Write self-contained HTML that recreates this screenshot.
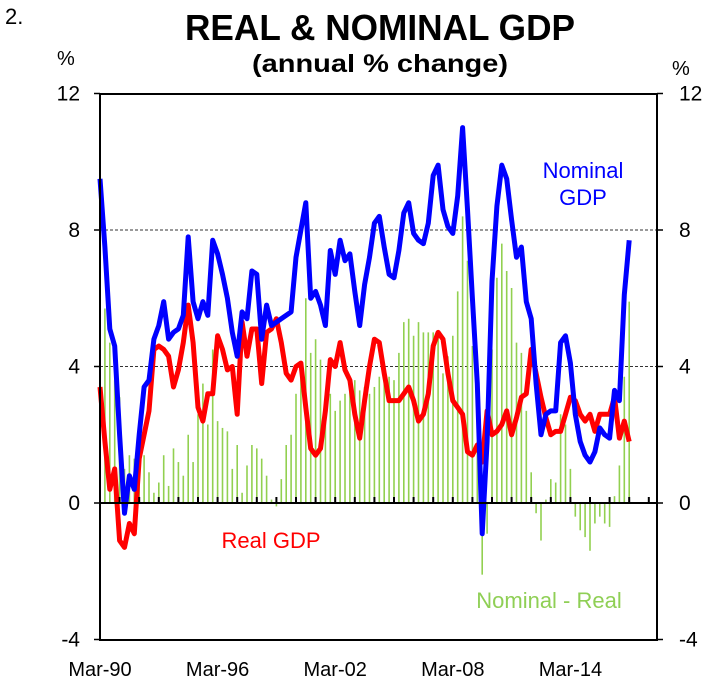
<!DOCTYPE html>
<html><head><meta charset="utf-8"><style>
html,body{margin:0;padding:0;background:#fff;}
svg{display:block;font-family:"Liberation Sans",Arial,sans-serif;}
</style></head><body>
<svg id="chart" width="720" height="681" viewBox="0 0 720 681" xmlns="http://www.w3.org/2000/svg">
<text x="5" y="24" font-size="22">2.</text>
<text x="380" y="40" font-size="36" font-weight="bold" text-anchor="middle" textLength="390" lengthAdjust="spacingAndGlyphs">REAL &amp; NOMINAL GDP</text>
<text x="380" y="72" font-size="25" font-weight="bold" text-anchor="middle" textLength="256" lengthAdjust="spacingAndGlyphs">(annual % change)</text>
<text x="57" y="65" font-size="20">%</text>
<text x="672" y="75" font-size="20">%</text>
<g id="grid"></g><g id="bars"></g><g id="lines"></g><g id="axes"></g>
<text x="583" y="178" font-size="22" fill="#0000ff" text-anchor="middle">Nominal</text>
<text x="583" y="205" font-size="22" fill="#0000ff" text-anchor="middle">GDP</text>
<text x="271" y="548" font-size="22" fill="#ff0000" text-anchor="middle">Real GDP</text>
<text x="549" y="608" font-size="22" fill="#8fcf55" text-anchor="middle">Nominal - Real</text>
</svg>
<script>
const nominal=[9.5,7.5,5.1,4.6,2.0,-0.3,0.8,0.4,2.0,3.4,3.6,4.8,5.2,5.9,4.8,5.0,5.1,5.5,7.8,5.9,5.4,5.9,5.5,7.7,7.3,6.7,6.0,5.0,4.3,5.6,5.4,6.8,6.7,4.8,5.8,5.2,5.3,5.4,5.5,5.6,7.2,8.0,8.8,6.0,6.2,5.8,5.2,7.4,6.7,7.7,7.1,7.3,6.2,5.2,6.4,7.2,8.2,8.4,7.5,6.7,6.6,7.4,8.5,8.8,7.9,7.7,7.6,8.2,9.6,9.9,8.6,8.1,7.9,9.0,11.0,8.6,6.0,3.5,-0.9,1.8,6.5,8.7,9.9,9.5,8.3,7.2,7.5,5.9,5.4,3.5,2.0,2.6,2.7,2.7,4.7,4.9,4.1,2.6,1.8,1.4,1.2,1.5,2.2,2.0,1.9,3.3,3.0,6.1,7.7];
const real=[3.4,1.8,0.4,1.0,-1.1,-1.3,-0.6,-0.9,1.3,2.0,2.7,4.5,4.6,4.5,4.3,3.4,3.9,4.7,5.8,4.7,2.8,2.4,3.2,3.2,4.9,4.5,3.9,4.0,2.6,5.3,4.3,5.1,5.1,3.5,5.0,5.1,5.4,4.7,3.8,3.6,4.0,4.1,2.8,1.6,1.4,1.6,2.7,4.2,4.0,4.7,3.9,3.6,2.6,1.9,3.0,4.0,4.8,4.7,3.8,3.0,3.0,3.0,3.2,3.4,3.0,2.4,2.6,3.2,4.6,5.0,4.8,3.8,3.0,2.8,2.6,1.5,1.4,1.7,1.2,2.7,2.0,2.1,2.3,2.7,2.0,2.5,3.1,3.2,4.5,3.8,3.1,2.5,2.0,2.1,2.1,2.6,3.1,3.0,2.6,2.4,2.6,2.1,2.6,2.6,2.6,3.1,1.9,2.4,1.8];
const yTicks=[-4,0,4,8,12];
const gridVals=[4,8];
const xLabels=["Mar-90","Mar-96","Mar-02","Mar-08","Mar-14"];
const xLabelIdx=[0,24,48,72,96];
const NS="http://www.w3.org/2000/svg";
const L=100,R=657,T=94,B=640,Q=4.9;
function X(i){return L+i*Q;}
function Y(v){return 503-(v)*34.125;}
function mk(tag,attrs,parent){const e=document.createElementNS(NS,tag);for(const k in attrs)e.setAttribute(k,attrs[k]);parent.appendChild(e);return e;}
const grid=document.getElementById('grid'),bars=document.getElementById('bars'),lines=document.getElementById('lines'),axes=document.getElementById('axes');
gridVals.forEach(v=>{const g=mk('line',{x1:L,x2:R,y1:Y(v),y2:Y(v),stroke:'#333','stroke-width':1,'stroke-dasharray':'3,2'},grid);

});
nominal.forEach((n,i)=>{const d=n-real[i];const b=mk('line',{x1:X(i),x2:X(i),y1:Y(0),y2:Y(d),stroke:'#92d050','stroke-width':1.6},bars);

});
function path(arr,color,name){const p=mk('polyline',{points:arr.map((v,i)=>X(i)+','+Y(v)).join(' '),fill:'none',stroke:color,'stroke-width':5,'stroke-linejoin':'round'},lines);

}
path(real,'#ff0000','real-gdp-line');
path(nominal,'#0000ff','nominal-gdp-line');
const frame=mk('rect',{x:L,y:T,width:R-L,height:B-T,fill:'none',stroke:'#000','stroke-width':2},axes);


const zero=mk('line',{x1:L,x2:R,y1:Y(0),y2:Y(0),stroke:'#000','stroke-width':2},axes);


for(let yr=1;yr<=28;yr++){const t=mk('line',{x1:X(yr*4),x2:X(yr*4),y1:Y(0),y2:Y(0)-6,stroke:'#000','stroke-width':2},axes);

}
yTicks.forEach(v=>{
const a=mk('line',{x1:L-6,x2:L,y1:Y(v),y2:Y(v),stroke:'#000','stroke-width':1.5},axes);


const b=mk('line',{x1:R,x2:R+6,y1:Y(v),y2:Y(v),stroke:'#000','stroke-width':1.5},axes);


const t1=mk('text',{x:80,y:Y(v)+7,'font-size':21,'text-anchor':'end'},axes);t1.textContent=v;


const t2=mk('text',{x:679,y:Y(v)+7,'font-size':21},axes);t2.textContent=v;

});
xLabels.forEach((s,k)=>{const t=mk('text',{x:X(xLabelIdx[k]),y:676,'font-size':20,'text-anchor':'middle'},axes);t.textContent=s;

});
</script>
</body></html>
